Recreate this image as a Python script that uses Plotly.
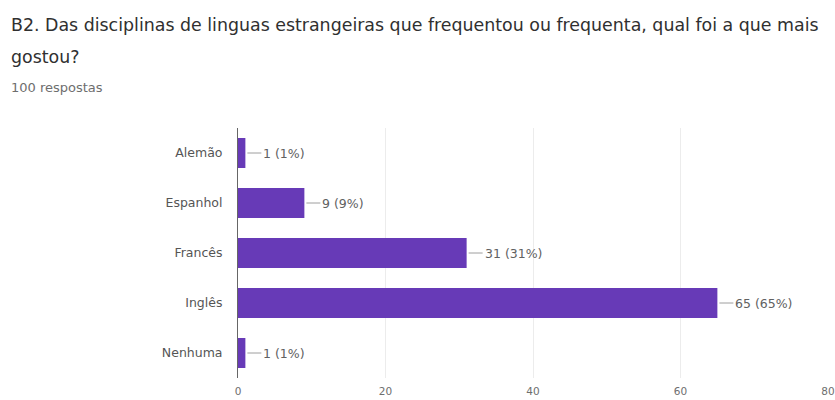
import plotly.graph_objects as go

# Survey responses: favourite foreign-language subject
categories = ["Alemão", "Espanhol", "Francês", "Inglês", "Nenhuma"]
counts = [1, 9, 31, 65, 1]
total_responses = 100
x_ticks = [0, 20, 40, 60, 80]

title_lines = [
    "B2. Das disciplinas de linguas estrangeiras que frequentou ou frequenta, qual foi a que mais",
    "gostou?",
]
subtitle_text = f"{total_responses} respostas"

bar_color = "#673ab7"
font_family = "DejaVu Sans, Verdana, sans-serif"

# Figure geometry (pixels)
W, H = 835, 400
M_L, M_R, M_T, M_B = 238, 7, 128, 22
plot_w = W - M_L - M_R
plot_h = H - M_T - M_B


def px_to_paper_x(px):
    return (px - M_L) / plot_w


def px_to_paper_y(py):
    return (H - M_B - py) / plot_h


fig = go.Figure(
    go.Bar(
        x=counts,
        y=categories,
        orientation="h",
        marker=dict(color=bar_color, line=dict(width=0)),
        width=0.6,
        hoverinfo="skip",
    )
)

# Value labels with a short leader line from each bar end
for cat, val in zip(categories, counts):
    pct = round(100 * val / total_responses)
    fig.add_annotation(
        x=val, y=cat, xref="x", yref="y",
        text=f"{val} ({pct}%)",
        showarrow=True, arrowhead=0, arrowwidth=1, arrowcolor="#9e9e9e",
        ax=16, ay=0, standoff=2,
        xanchor="left", yanchor="middle",
        font=dict(family=font_family, size=12.5, color="#616161"),
    )

# Question title (two lines) and response count above the chart
for text, py in zip(title_lines, [25, 57]):
    fig.add_annotation(
        x=px_to_paper_x(9), y=px_to_paper_y(py), xref="paper", yref="paper",
        xanchor="left", yanchor="middle", text=text, showarrow=False,
        font=dict(family=font_family, size=17.4, color="#303030"),
    )
fig.add_annotation(
    x=px_to_paper_x(9), y=px_to_paper_y(87), xref="paper", yref="paper",
    xanchor="left", yanchor="middle", text=subtitle_text, showarrow=False,
    font=dict(family=font_family, size=13, color="#6e6e6e"),
)

fig.update_layout(
    width=W, height=H,
    margin=dict(l=M_L, r=M_R, t=M_T, b=M_B),
    paper_bgcolor="white", plot_bgcolor="white",
    showlegend=False,
    bargap=0.4,
    font=dict(family=font_family, color="#444444"),
    xaxis=dict(
        range=[0, 80], tickvals=x_ticks, showgrid=True, gridcolor="#ececec",
        zeroline=False, showline=False, ticks="",
        ticklabelstandoff=5, automargin=False,
        tickfont=dict(size=10.5, color="#6e6e6e"),
        fixedrange=True,
    ),
    yaxis=dict(
        autorange="reversed", showgrid=False, zeroline=False,
        showline=True, linecolor="#666666", linewidth=1,
        ticks="", ticklabelstandoff=12, automargin=False,
        tickfont=dict(size=12.5, color="#555555"),
        fixedrange=True,
    ),
)

fig.write_html("out.html")
